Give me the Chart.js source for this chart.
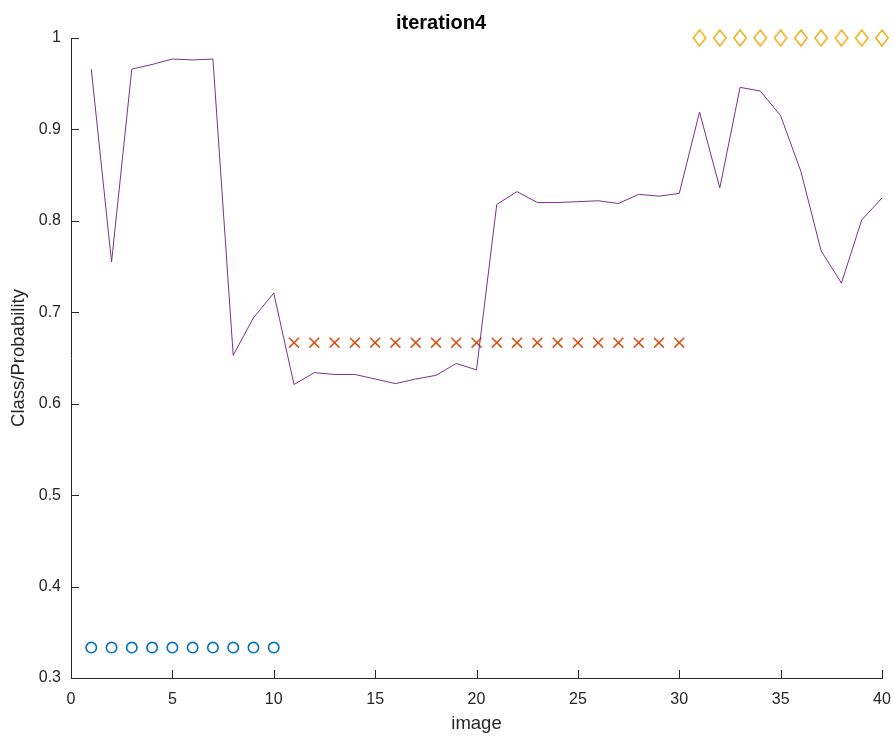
<!DOCTYPE html>
<html>
<head>
<meta charset="utf-8">
<title>iteration4</title>
<script src="https://cdn.jsdelivr.net/npm/chart.js@4.4.1/dist/chart.umd.min.js"></script>
<style>
  html, body { margin: 0; padding: 0; background: #ffffff; }
  #wrap { width: 895px; height: 737px; }
</style>
</head>
<body>
<div id="wrap"><canvas id="c" width="895" height="737"></canvas></div>
<script>
// image index for every sample
const images = [1,2,3,4,5,6,7,8,9,10,11,12,13,14,15,16,17,18,19,20,
                21,22,23,24,25,26,27,28,29,30,31,32,33,34,35,36,37,38,39,40];

// predicted probability per image
const probability = [0.966,0.755,0.966,0.971,0.977,0.976,0.977,0.653,0.694,0.721,
                     0.621,0.634,0.632,0.632,0.627,0.622,0.627,0.631,0.644,0.637,
                     0.818,0.832,0.820,0.820,0.821,0.822,0.819,0.829,0.827,0.830,
                     0.919,0.836,0.946,0.942,0.915,0.854,0.767,0.732,0.801,0.825];

// true class (scaled) for each group of images
const classOneImages = [1,2,3,4,5,6,7,8,9,10];
const classOneValue  = [0.3333,0.3333,0.3333,0.3333,0.3333,0.3333,0.3333,0.3333,0.3333,0.3333];
const classTwoImages = [11,12,13,14,15,16,17,18,19,20,21,22,23,24,25,26,27,28,29,30];
const classTwoValue  = [0.6667,0.6667,0.6667,0.6667,0.6667,0.6667,0.6667,0.6667,0.6667,0.6667,
                        0.6667,0.6667,0.6667,0.6667,0.6667,0.6667,0.6667,0.6667,0.6667,0.6667];
const classThreeImages = [31,32,33,34,35,36,37,38,39,40];
const classThreeValue  = [1,1,1,1,1,1,1,1,1,1];

// axis ticks
const xTicks = [0,5,10,15,20,25,30,35,40];
const yTicks = [0.3,0.4,0.5,0.6,0.7,0.8,0.9,1];

const axisColor = '#262626';
const fontFamily = '"Liberation Sans", Arial, Helvetica, sans-serif';

function pairs(xs, ys) { return xs.map((x, i) => ({ x: x, y: ys[i] })); }

// tall diamond marker
function diamondMarker(color) {
  const w = 16, h = 20;
  const cv = document.createElement('canvas');
  cv.width = w; cv.height = h;
  const g = cv.getContext('2d');
  g.strokeStyle = color;
  g.lineWidth = 1.6;
  g.beginPath();
  g.moveTo(w / 2, 2);
  g.lineTo(w / 2 + 6.2, h / 2);
  g.lineTo(w / 2, h - 2);
  g.lineTo(w / 2 - 6.2, h / 2);
  g.closePath();
  g.stroke();
  return cv;
}

// tick marks pointing into the plot area
const inwardTicks = {
  id: 'inwardTicks',
  afterDatasetsDraw(chart) {
    const { ctx, chartArea } = chart;
    const xs = chart.scales.x, ys = chart.scales.y;
    const len = 8;
    ctx.save();
    ctx.strokeStyle = axisColor;
    ctx.lineWidth = 1;
    ctx.beginPath();
    xs.ticks.forEach((t, i) => {
      const px = Math.round(xs.getPixelForTick(i)) + 0.5;
      ctx.moveTo(px, chartArea.bottom);
      ctx.lineTo(px, chartArea.bottom - len);
    });
    ys.ticks.forEach((t, i) => {
      const py = Math.round(ys.getPixelForTick(i)) + 0.5;
      ctx.moveTo(chartArea.left, py);
      ctx.lineTo(chartArea.left + len, py);
    });
    ctx.stroke();
    ctx.restore();
  }
};

new Chart(document.getElementById('c'), {
  type: 'line',
  data: {
    datasets: [
      {
        label: 'probability',
        data: pairs(images, probability),
        borderColor: '#7E2F8E',
        borderWidth: 1,
        pointRadius: 0,
        tension: 0,
        fill: false
      },
      {
        label: 'class 1',
        data: pairs(classOneImages, classOneValue),
        showLine: false,
        pointStyle: 'circle',
        pointRadius: 5.2,
        pointBorderWidth: 1.6,
        pointBorderColor: '#0072BD',
        pointBackgroundColor: 'rgba(0,0,0,0)',
        clip: false
      },
      {
        label: 'class 2',
        data: pairs(classTwoImages, classTwoValue),
        showLine: false,
        pointStyle: 'crossRot',
        pointRadius: 7,
        pointBorderWidth: 1.6,
        pointBorderColor: '#D95319',
        clip: false
      },
      {
        label: 'class 3',
        data: pairs(classThreeImages, classThreeValue),
        showLine: false,
        pointStyle: diamondMarker('#EDB120'),
        clip: false
      }
    ]
  },
  options: {
    responsive: false,
    animation: false,
    layout: { padding: { left: 0, right: 13, top: 0, bottom: 0 } },
    plugins: {
      legend: { display: false },
      tooltip: { enabled: false },
      title: {
        display: true,
        text: 'iteration4',
        color: '#000000',
        font: { family: fontFamily, size: 20, weight: 'bold', lineHeight: 1.2 },
        padding: { top: 11, bottom: 3 }
      }
    },
    scales: {
      x: {
        type: 'linear',
        min: 0,
        max: 40,
        afterFit(scale) {
          scale.height = 59;
          scale.paddingLeft = 0;
          scale.paddingRight = 0;
        },
        afterBuildTicks(scale) { scale.ticks = xTicks.map(v => ({ value: v })); },
        grid: { display: false, drawTicks: false },
        border: { display: true, color: axisColor, width: 1 },
        ticks: {
          color: axisColor,
          padding: 12,
          maxRotation: 0,
          autoSkip: false,
          font: { family: fontFamily, size: 16 },
          callback: v => String(v)
        },
        title: {
          display: true,
          text: 'image',
          color: axisColor,
          font: { family: fontFamily, size: 18.5, lineHeight: 1.2 },
          padding: { top: 0, bottom: 2 }
        }
      },
      y: {
        type: 'linear',
        min: 0.3,
        max: 1,
        afterFit(scale) {
          scale.width = 71;
          scale.paddingTop = 0;
          scale.paddingBottom = 0;
        },
        afterBuildTicks(scale) { scale.ticks = yTicks.map(v => ({ value: v })); },
        grid: { display: false, drawTicks: false },
        border: { display: true, color: axisColor, width: 1 },
        ticks: {
          color: axisColor,
          padding: 10,
          autoSkip: false,
          font: { family: fontFamily, size: 16 },
          callback: v => String(Math.round(v * 10) / 10)
        },
        title: {
          display: true,
          text: 'Class/Probability',
          color: axisColor,
          font: { family: fontFamily, size: 18.5, lineHeight: 1.2 },
          padding: { top: 8, bottom: 0 }
        }
      }
    }
  },
  plugins: [inwardTicks]
});
</script>
</body>
</html>
